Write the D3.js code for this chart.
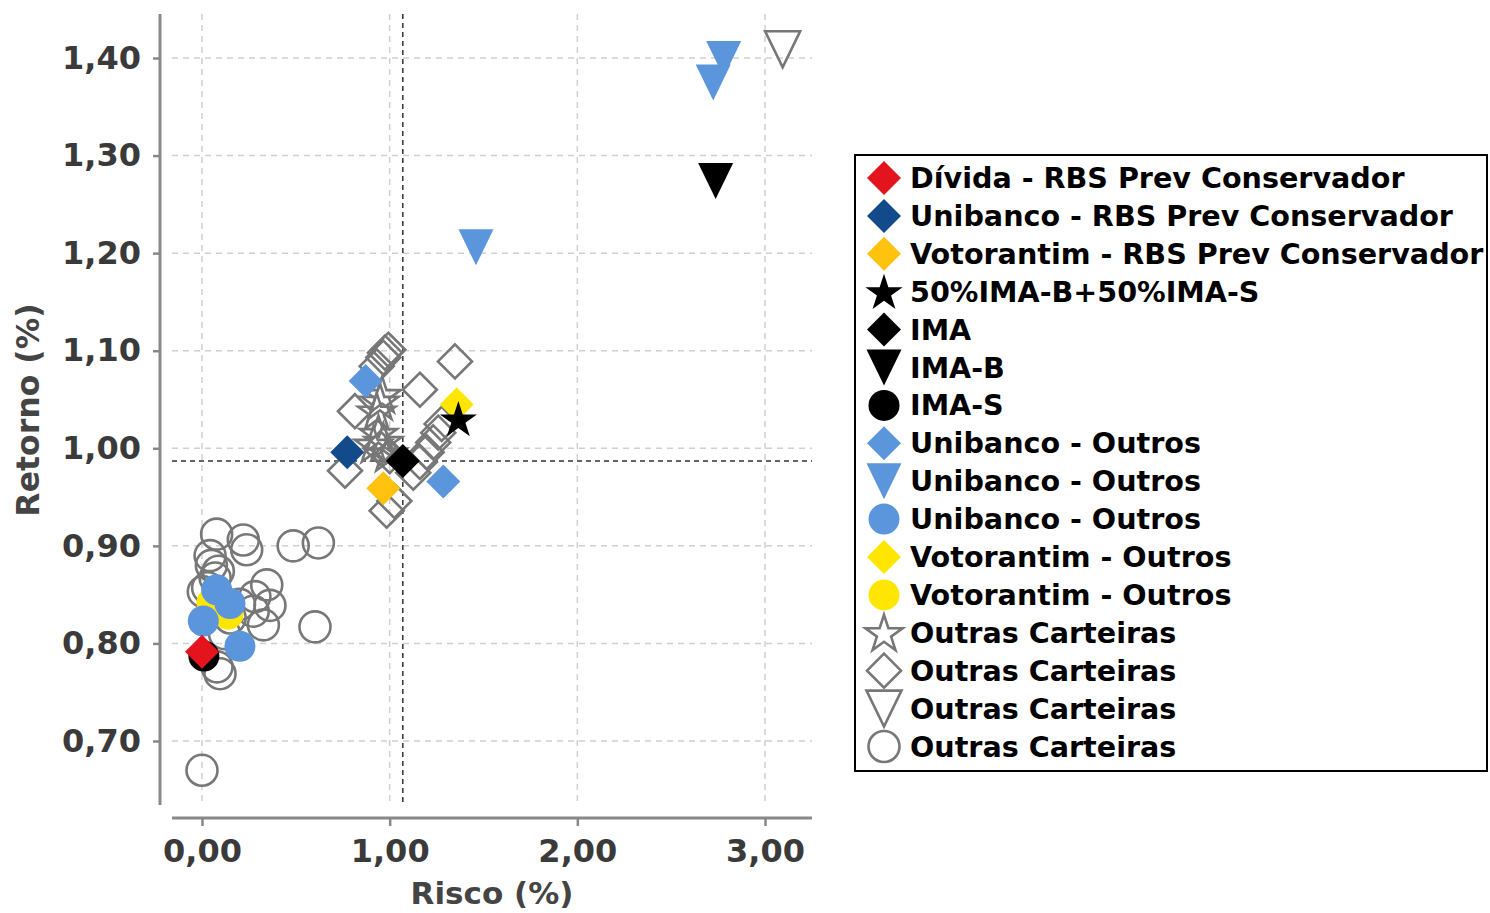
<!DOCTYPE html>
<html><head><meta charset="utf-8">
<script src="https://cdn.jsdelivr.net/npm/d3@7"></script>
<style>html,body{margin:0;padding:0;background:#fff;}svg{display:block;}</style>
</head><body>
<svg id="chart" width="1490" height="913"></svg>
<script>
// ---------- data (Risco %, Retorno %) ----------
const xTicks = [0, 1, 2, 3];
const yTicks = [0.70, 0.80, 0.90, 1.00, 1.10, 1.20, 1.30, 1.40];

const outrasCirculos = [
  [0.00, 0.670], [0.078, 0.912], [0.220, 0.906], [0.238, 0.896], [0.043, 0.890],
  [0.050, 0.880], [0.087, 0.874], [0.070, 0.867], [0.486, 0.900], [0.620, 0.903],
  [0.007, 0.853], [0.030, 0.857], [0.345, 0.860], [0.282, 0.848], [0.362, 0.839],
  [0.273, 0.833], [0.327, 0.819], [0.602, 0.817], [0.080, 0.776], [0.096, 0.769],
  [0.200, 0.840], [0.150, 0.826], [0.120, 0.810]
];
const outrasDiamantes = [
  [1.348, 1.089], [1.161, 1.060], [0.762, 0.977], [0.984, 0.936], [1.025, 0.946],
  [0.993, 1.101], [0.966, 1.093], [0.931, 1.084], [0.975, 1.098], [0.815, 1.038],
  [1.126, 0.975], [1.161, 0.986], [1.197, 0.996], [1.232, 1.006], [1.259, 1.016],
  [1.277, 1.025], [0.950, 1.000], [1.000, 0.992]
];
const outrasTriangulos = [[3.094, 1.409]];
const outrasEstrelas = [
  [0.948, 1.048], [0.931, 1.038], [0.960, 1.055], [0.913, 1.004], [0.966, 1.007],
  [0.990, 0.995], [0.940, 1.015]
];
const votorantimOutrosCirculos = [[0.053, 0.8415], [0.139, 0.830]];
const votorantimOutrosDiamantes = [[1.357, 1.045]];
const unibancoOutrosCirculos = [[0.078, 0.855], [0.149, 0.841], [0.007, 0.823], [0.202, 0.797]];
const unibancoOutrosTriangulos = [[2.780, 1.399], [2.724, 1.375], [1.460, 1.206]];
const unibancoOutrosDiamantes = [[0.872, 1.069], [1.286, 0.966]];
const imaS = [[0.010, 0.787]];
const imaB = [[2.737, 1.274]];
const ima = [[1.070, 0.987]];
const ima5050 = [[1.366, 1.030]];
const votorantimRbs = [[0.966, 0.959]];
const unibancoRbs = [[0.774, 0.996]];
const dividaRbs = [[0.000, 0.7915]];

// series: draw order vs legend order
const series = [
  {name: "Outras Carteiras", shape: "circle", fill: "none", stroke: "#777", data: outrasCirculos, leg: 15},
  {name: "Outras Carteiras", shape: "diamond", fill: "none", stroke: "#777", data: outrasDiamantes, leg: 13},
  {name: "Outras Carteiras", shape: "triangle", fill: "none", stroke: "#777", data: outrasTriangulos, leg: 14},
  {name: "Outras Carteiras", shape: "star", fill: "none", stroke: "#777", data: outrasEstrelas, leg: 12},
  {name: "Votorantim - Outros", shape: "circle", fill: "#FFE600", stroke: "none", data: votorantimOutrosCirculos, leg: 11},
  {name: "Votorantim - Outros", shape: "diamond", fill: "#FFE600", stroke: "none", data: votorantimOutrosDiamantes, leg: 10},
  {name: "Unibanco - Outros", shape: "circle", fill: "#5B96DC", stroke: "none", data: unibancoOutrosCirculos, leg: 9},
  {name: "Unibanco - Outros", shape: "triangle", fill: "#5B96DC", stroke: "none", data: unibancoOutrosTriangulos, leg: 8},
  {name: "Unibanco - Outros", shape: "diamond", fill: "#5B96DC", stroke: "none", data: unibancoOutrosDiamantes, leg: 7},
  {name: "IMA-S", shape: "circle", fill: "#000", stroke: "none", data: imaS, leg: 6},
  {name: "IMA-B", shape: "triangle", fill: "#000", stroke: "none", data: imaB, leg: 5},
  {name: "IMA", shape: "diamond", fill: "#000", stroke: "none", data: ima, leg: 4},
  {name: "50%IMA-B+50%IMA-S", shape: "star", fill: "#000", stroke: "none", data: ima5050, leg: 3},
  {name: "Votorantim - RBS Prev Conservador", shape: "diamond", fill: "#FFC20E", stroke: "none", data: votorantimRbs, leg: 2},
  {name: "Unibanco - RBS Prev Conservador", shape: "diamond", fill: "#124A8C", stroke: "none", data: unibancoRbs, leg: 1},
  {name: "Dívida - RBS Prev Conservador", shape: "diamond", fill: "#E3141E", stroke: "none", data: dividaRbs, leg: 0}
];

// ---------- layout ----------
const svg = d3.select("#chart");
const x = d3.scaleLinear().domain([0, 3]).range([202, 765]);
const y = d3.scaleLinear().domain([0.70, 1.40]).range([741, 58]);
const plotL = 172, plotR = 812, plotT = 14, plotB = 805;
const FONT = "'DejaVu Sans', sans-serif";
const fmt = d3.formatLocale({decimal: ",", thousands: ".", grouping: [3], currency: ["R$", ""]}).format(".2f");

// marker paths
function markerPath(shape) {
  if (shape === "circle") return d3.symbol(d3.symbolCircle, Math.PI * 15.5 * 15.5)();
  if (shape === "diamond") { const r = 17; return `M0,${-r}L${r},0L0,${r}L${-r},0Z`; }
  if (shape === "triangle") { const w = 17.5, h = 18; return `M${-w},${-h}L${w},${-h}L0,${h}Z`; }
  if (shape === "star") {
    const R = 19.5, r = R * 0.3819660113; let p = "";
    for (let i = 0; i < 10; i++) {
      const rad = i % 2 === 0 ? R : r;
      const a = -Math.PI / 2 + i * Math.PI / 5;
      p += (i === 0 ? "M" : "L") + (rad * Math.cos(a)).toFixed(2) + "," + (rad * Math.sin(a) + 1.5).toFixed(2);
    }
    return p + "Z";
  }
}

// grid
const grid = svg.append("g");
grid.selectAll("line.gx").data(xTicks).join("line")
  .attr("x1", d => x(d)).attr("x2", d => x(d)).attr("y1", plotT).attr("y2", plotB)
  .attr("stroke", "#d0d0d0").attr("stroke-width", 1.5).attr("stroke-dasharray", "6,5");
grid.selectAll("line.gy").data(yTicks).join("line")
  .attr("y1", d => y(d)).attr("y2", d => y(d)).attr("x1", plotL).attr("x2", plotR)
  .attr("stroke", "#d0d0d0").attr("stroke-width", 1.5).attr("stroke-dasharray", "6,5");

// reference lines through IMA
const ref = svg.append("g");
ref.append("line").attr("x1", x(ima[0][0])).attr("x2", x(ima[0][0])).attr("y1", plotT).attr("y2", plotB)
  .attr("stroke", "#333").attr("stroke-width", 1.5).attr("stroke-dasharray", "5,4");
ref.append("line").attr("y1", y(ima[0][1])).attr("y2", y(ima[0][1])).attr("x1", plotL).attr("x2", plotR)
  .attr("stroke", "#333").attr("stroke-width", 1.5).attr("stroke-dasharray", "5,4");

// axes
const xAxis = svg.append("g").attr("transform", "translate(0,818)")
  .call(d3.axisBottom(x).tickValues(xTicks).tickFormat(fmt).tickSize(8).tickPadding(13));
xAxis.select(".domain").attr("d", `M${plotL},0H${plotR}`);
const yAxis = svg.append("g").attr("transform", "translate(160,0)")
  .call(d3.axisLeft(y).tickValues(yTicks).tickFormat(fmt).tickSize(7).tickPadding(12));
yAxis.select(".domain").attr("d", `M0,${plotT}V${plotB}`);
[xAxis, yAxis].forEach(a => {
  a.select(".domain").attr("stroke", "#888").attr("stroke-width", 3);
  a.selectAll(".tick line").attr("stroke", "#888").attr("stroke-width", 2.5);
  a.selectAll(".tick text").attr("font-family", FONT).attr("font-weight", "bold")
    .attr("font-size", 32).attr("fill", "#3a3a3a");
});

svg.append("text").attr("x", 492).attr("y", 904).attr("text-anchor", "middle")
  .attr("font-family", FONT).attr("font-weight", "bold").attr("font-size", 31).attr("fill", "#444")
  .text("Risco (%)");
svg.append("text").attr("transform", "translate(39,410) rotate(-90)").attr("text-anchor", "middle")
  .attr("font-family", FONT).attr("font-weight", "bold").attr("font-size", 31.5).attr("fill", "#444")
  .text("Retorno (%)");

// points
const pts = svg.append("g");
series.forEach(s => {
  pts.append("g").selectAll("path").data(s.data).join("path")
    .attr("d", markerPath(s.shape))
    .attr("transform", d => `translate(${x(d[0])},${y(d[1])})`)
    .attr("fill", s.fill).attr("stroke", s.stroke).attr("stroke-width", s.stroke === "none" ? 0 : 2.6);
});

// legend
const legend = svg.append("g");
legend.append("rect").attr("x", 855).attr("y", 155).attr("width", 632).attr("height", 616)
  .attr("fill", "#fff").attr("stroke", "#000").attr("stroke-width", 2);
const legItems = series.slice().sort((a, b) => a.leg - b.leg);
const li = legend.selectAll("g.item").data(legItems).join("g")
  .attr("transform", (d, i) => `translate(0,${178 + i * 37.9})`);
li.append("path").attr("d", d => markerPath(d.shape)).attr("transform", "translate(884,0)")
  .attr("fill", d => d.fill).attr("stroke", d => d.stroke).attr("stroke-width", d => d.stroke === "none" ? 0 : 2.6);
li.append("text").attr("x", 910).attr("y", 10).attr("font-family", FONT).attr("font-weight", "bold")
  .attr("font-size", 28.6).attr("fill", "#000").text(d => d.name);
</script>
</body></html>
